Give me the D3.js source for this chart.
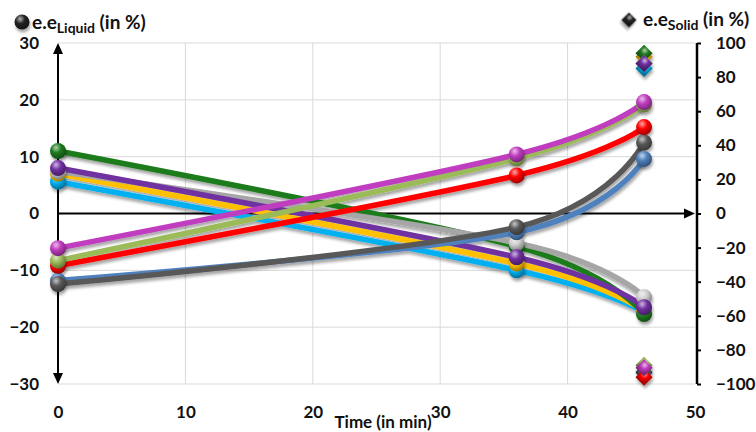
<!DOCTYPE html>
<html><head><meta charset="utf-8">
<script src="https://cdn.jsdelivr.net/npm/d3@7/dist/d3.min.js"></script>
<style>
body{margin:0;background:#fff;}
svg{display:block;font-family:Lato,"Open Sans",sans-serif;font-weight:bold;}
</style></head>
<body><svg id="c" width="756" height="432"></svg>
<script>
// ---- data ----
const times = [0, 36, 46];
const xTicks = [0, 10, 20, 30, 40, 50];
const yLeftTicks = [-30, -20, -10, 0, 10, 20, 30];
const yRightTicks = [-100, -80, -60, -40, -20, 0, 20, 40, 60, 80, 100];
// liquid-phase e.e. (%) per series, at the times above
const seriesColors = ["#00b0f0", "#ffc000", "#1e7b1e", "#a6a6a6", "#7030a0",
                      "#4f81bd", "#595959", "#ff0000", "#9bbb59", "#c03cc0"];
const cyanLiquid      = [5.6, -10.0, -17.4];
const yellowLiquid    = [7.0, -8.8, -17.2];
const greenLiquid     = [11.0, -5.8, -17.7];
const silverLiquid    = [7.4, -5.2, -14.7];
const purpleLiquid    = [8.0, -7.7, -16.5];
const blueLiquid      = [-11.8, -3.3, 9.6];
const darkgrayLiquid  = [-12.4, -2.4, 12.5];
const redLiquid       = [-9.2, 6.7, 15.2];
const lightgreenLiquid= [-8.3, 9.7, 19.2];
const magentaLiquid   = [-6.1, 10.4, 19.6];
// solid-phase e.e. (%) at t = 46 min
const solidTime = 46;
const solidValues = [85, 92, 94, 88, 88, -93.5, -93, -96, -89, -90.5];

const liquid = [cyanLiquid, yellowLiquid, greenLiquid, silverLiquid, purpleLiquid,
                blueLiquid, darkgrayLiquid, redLiquid, lightgreenLiquid, magentaLiquid];
const series = liquid.map((v, i) => ({color: seriesColors[i], values: v, solid: solidValues[i]}));

// ---- chart ----
const svg = d3.select("#c");
const x = d3.scaleLinear([0, 50], [58, 695]);
const yL = d3.scaleLinear([-30, 30], [384, 43]);
const yR = d3.scaleLinear([-100, 100], [384, 43]);

const defs = svg.append("defs");
const sh = defs.append("filter").attr("id","sh").attr("x","-20%").attr("y","-20%").attr("width","140%").attr("height","160%");
sh.append("feDropShadow").attr("dx",1).attr("dy",3).attr("stdDeviation",1.5).attr("flood-color","#000").attr("flood-opacity",0.35);

function grad(id, c){
  const g = defs.append("radialGradient").attr("id", id).attr("cx","38%").attr("cy","30%").attr("r","70%");
  g.append("stop").attr("offset","0%").attr("stop-color", d3.interpolateRgb(c, "#fff")(0.65));
  g.append("stop").attr("offset","45%").attr("stop-color", c);
  g.append("stop").attr("offset","100%").attr("stop-color", d3.color(c).darker(1.3));
}
series.forEach((s,i)=>grad("g"+i, i===3 ? "#d0d0d0" : s.color));
grad("gk", "#222");

// grid
const grid = svg.append("g").attr("stroke","#d9d9d9").attr("stroke-width",1);
yLeftTicks.filter(d=>d!==0).forEach(d=>{
  grid.append("line").attr("x1",x(0)).attr("x2",x(50)).attr("y1",yL(d)).attr("y2",yL(d));
});
xTicks.filter(d=>d>0 && d<50).forEach(d=>{
  grid.append("line").attr("x1",x(d)).attr("x2",x(d)).attr("y1",yL(30)).attr("y2",yL(-30));
});

// axes labels
const fs = 17;
const gl = svg.append("g").attr("transform",`translate(${x(0)},0)`)
  .call(d3.axisLeft(yL).tickValues(yLeftTicks).tickSize(0).tickPadding(19));
const gb = svg.append("g").attr("transform",`translate(0,${yL(-30)})`)
  .call(d3.axisBottom(x).tickValues(xTicks).tickSize(0).tickPadding(22));
const gr = svg.append("g").attr("transform",`translate(${x(50)+2},0)`)
  .call(d3.axisRight(yR).tickValues(yRightTicks).tickSize(4).tickPadding(15));
[gl,gb,gr].forEach(g=>{
  g.select(".domain").remove();
  g.selectAll("text").attr("font-size",fs).attr("font-family","Lato,'Open Sans',sans-serif").attr("font-weight","bold").attr("fill","#111");
});
gr.selectAll(".tick line").attr("stroke","#000").attr("stroke-width",2);
gr.selectAll("text").attr("text-anchor","start");
gr.append("line").attr("x1",0).attr("x2",0).attr("y1",yR(100)).attr("y2",yR(-100)).attr("stroke","#000").attr("stroke-width",2.5);

// main axes with arrows
const ax = svg.append("g").attr("stroke","#000").attr("fill","#000");
ax.append("line").attr("x1",x(0)).attr("x2",x(0)).attr("y1",yL(30)+8).attr("y2",yL(-30)-8).attr("stroke-width",2);
ax.append("path").attr("d",`M${x(0)},${yL(30)} l-5,11 l10,0 z`).attr("stroke","none");
ax.append("path").attr("d",`M${x(0)},${yL(-30)} l-5,-11 l10,0 z`).attr("stroke","none");
ax.append("line").attr("x1",x(0)).attr("x2",x(50)-10).attr("y1",yL(0)).attr("y2",yL(0)).attr("stroke-width",2);
ax.append("path").attr("d",`M${x(50)},${yL(0)} l-11,-5 l0,10 z`).attr("stroke","none");

// lines
const line = d3.line().x((d,i)=>x(times[i])).y(d=>yL(d)).curve(d3.curveCardinal.tension(0));
const lg = svg.append("g").attr("filter","url(#sh)");
series.forEach(s=>{
  lg.append("path").attr("d", line(s.values)).attr("fill","none")
    .attr("stroke", s.color).attr("stroke-width",5.5).attr("stroke-linecap","round");
});
// spheres
const mg = svg.append("g").attr("filter","url(#sh)");
series.forEach((s,i)=>{
  s.values.forEach((v,j)=>{
    mg.append("circle").attr("cx",x(times[j])).attr("cy",yL(v)).attr("r",8)
      .attr("fill",`url(#g${i})`);
  });
});
// diamonds (solid e.e.)
const dg = svg.append("g").attr("filter","url(#sh)");
const dia = d3.symbol(d3.symbolSquare, 145);
series.forEach((s,i)=>{
  dg.append("path").attr("d", dia())
    .attr("transform",`translate(${x(solidTime)},${yR(s.solid)}) rotate(45)`)
    .attr("fill",`url(#g${i})`);
});

// axis title
svg.append("text").attr("x",383).attr("y",428).attr("text-anchor","middle")
  .attr("font-size",fs).attr("fill","#111").text("Time (in min)");

// legends
const lfs = 19, sfs = 14;
svg.append("circle").attr("cx",22).attr("cy",22).attr("r",7.5).attr("fill","url(#gk)").attr("filter","url(#sh)");
const t1 = svg.append("text").attr("x",32).attr("y",29).attr("font-size",lfs).attr("fill","#111");
t1.append("tspan").text("e.e");
t1.append("tspan").attr("font-size",sfs).attr("dy",4).text("Liquid");
t1.append("tspan").attr("dy",-4).text(" (in %)");
svg.append("path").attr("d", d3.symbol(d3.symbolSquare, 115)()).attr("transform","translate(629,20) rotate(45)")
  .attr("fill","url(#gk)").attr("filter","url(#sh)");
const t2 = svg.append("text").attr("x",643).attr("y",26).attr("font-size",lfs).attr("fill","#111");
t2.append("tspan").text("e.e");
t2.append("tspan").attr("font-size",sfs).attr("dy",4).text("Solid");
t2.append("tspan").attr("dy",-4).text(" (in %)");
</script></body></html>
